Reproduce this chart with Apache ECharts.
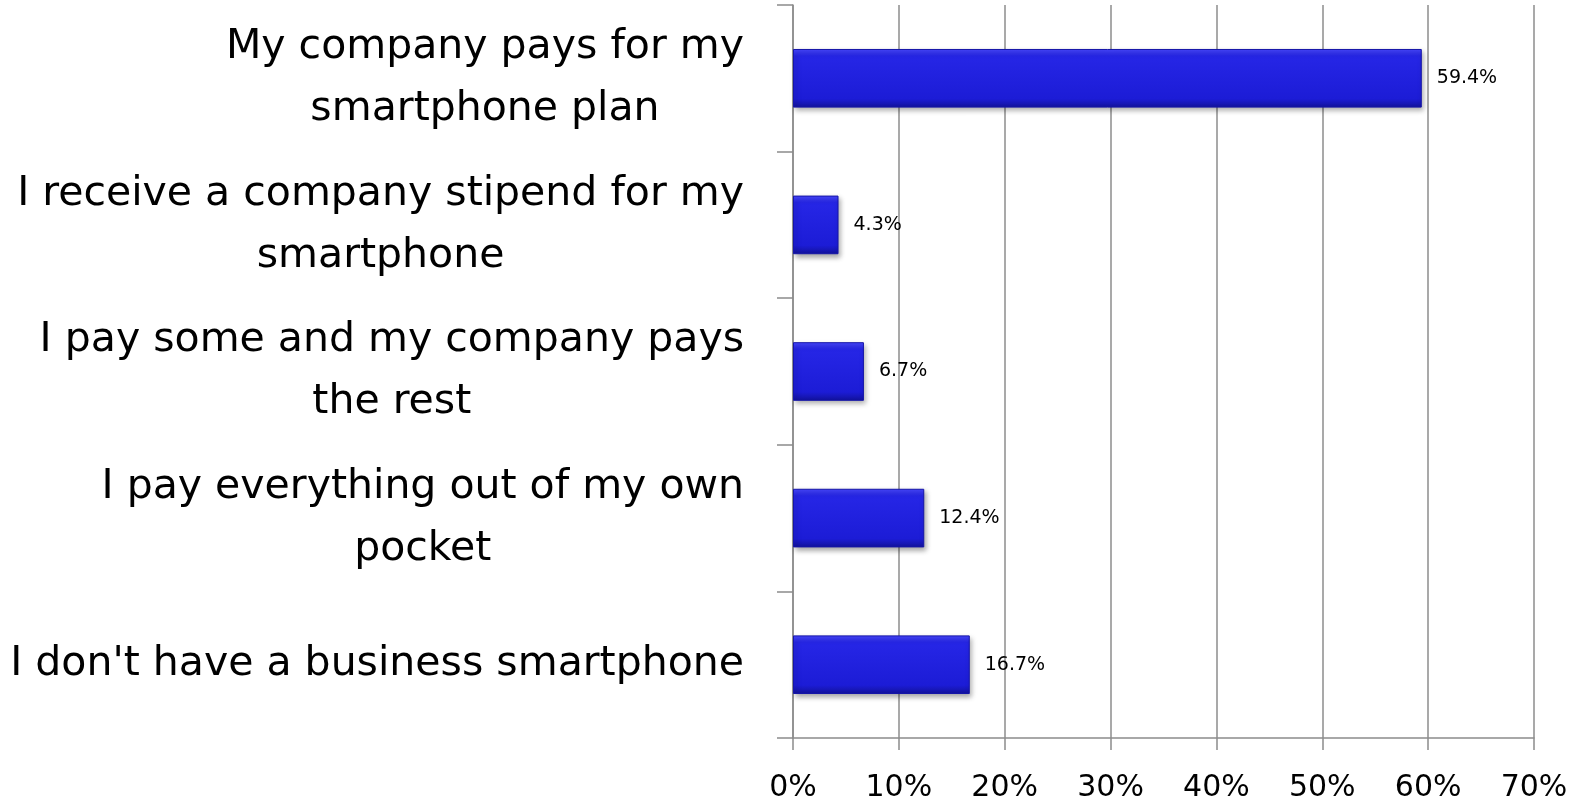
<!DOCTYPE html>
<html>
<head>
<meta charset="utf-8">
<script src="https://cdn.jsdelivr.net/npm/echarts@6/dist/echarts.min.js"></script>
<style>
  html, body { margin: 0; padding: 0; background: #fff; }
  #chart { width: 1581px; height: 801px; }
</style>
</head>
<body>
<div id="chart"></div>
<script>
// answers, top to bottom as in the picture
var categories = [
  'My company pays for my\nsmartphone plan',
  'I receive a company stipend for my\nsmartphone',
  'I pay some and my company pays\nthe rest',
  'I pay everything out of my own\npocket',
  "I don't have a business smartphone"
];
var shares = [59.4, 4.3, 6.7, 12.4, 16.7];
var xTicks = [0, 10, 20, 30, 40, 50, 60, 70];

var chart = echarts.init(document.getElementById('chart'));

var barFill = new echarts.graphic.LinearGradient(0, 0, 0, 1, [
  { offset: 0, color: '#4848ff' },
  { offset: 0.12, color: '#2626e6' },
  { offset: 0.85, color: '#1c1cd6' },
  { offset: 1, color: '#12129a' }
]);

var option = {
  animation: false,
  backgroundColor: '#fff',
  grid: { left: 793, right: 47, top: 5, bottom: 63, outerBoundsMode: 'none', containLabel: false },
  xAxis: {
    type: 'value',
    min: xTicks[0],
    max: xTicks[xTicks.length - 1],
    interval: 10,
    axisLine: { show: true, lineStyle: { color: '#8c8c8c', width: 1.5 } },
    axisTick: { show: true, length: 12, lineStyle: { color: '#8c8c8c', width: 1.5 } },
    splitLine: { show: true, lineStyle: { color: '#8c8c8c', width: 1.5 } },
    axisLabel: {
      color: '#000',
      fontSize: 30,
      fontFamily: 'DejaVu Sans',
      margin: 35,
      formatter: function (v) { return v + '%'; }
    }
  },
  yAxis: {
    type: 'category',
    inverse: true,
    data: categories,
    axisLine: { show: true, lineStyle: { color: '#8c8c8c', width: 1.5 } },
    axisTick: { show: true, length: 16, lineStyle: { color: '#8c8c8c', width: 1.5 } },
    axisLabel: {
      align: 'right',
      margin: 49,
      // each line centred inside the block, block right-aligned against the axis
      formatter: function (v) {
        return v.split('\n').map(function (l) { return '{c|' + l + '}'; }).join('\n');
      },
      rich: {
        c: {
          align: 'center',
          color: '#000',
          fontSize: 41,
          lineHeight: 62,
          fontFamily: 'DejaVu Sans'
        }
      }
    }
  },
  series: [{
    type: 'bar',
    data: shares,
    barCategoryGap: '60%',
    itemStyle: {
      color: barFill,
      borderColor: '#1515a8',
      borderWidth: 1,
      shadowColor: 'rgba(0,0,0,0.35)',
      shadowBlur: 5,
      shadowOffsetX: 2,
      shadowOffsetY: 3
    },
    label: {
      show: true,
      position: 'right',
      distance: 15,
      color: '#000',
      fontSize: 19,
      fontFamily: 'DejaVu Sans',
      formatter: function (p) { return p.value.toFixed(1) + '%'; }
    }
  }]
};

chart.setOption(option);
</script>
</body>
</html>
